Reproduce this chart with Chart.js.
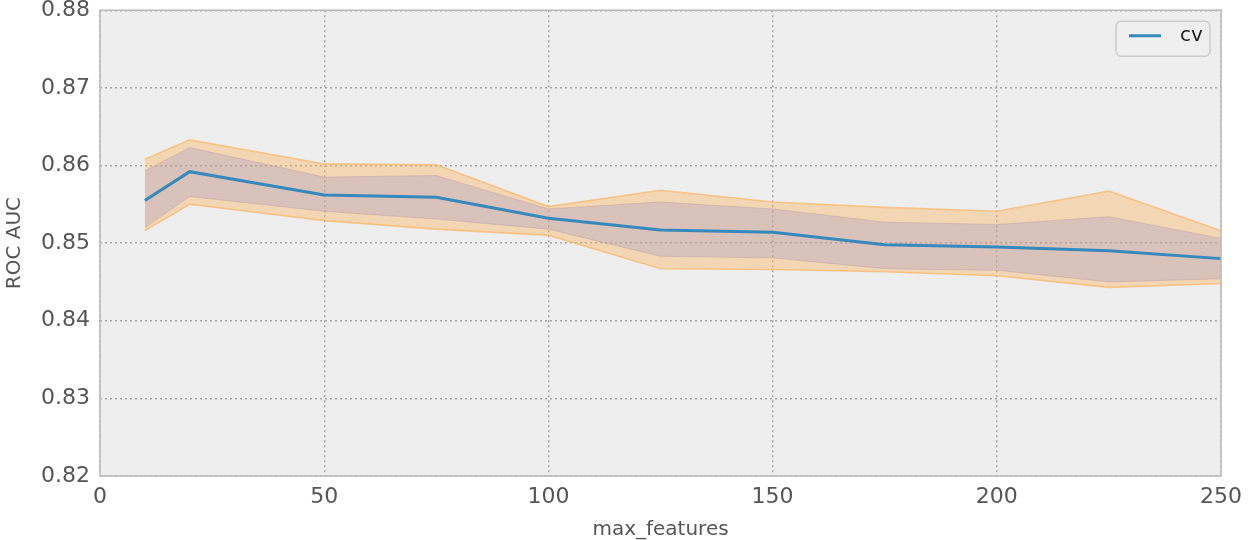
<!DOCTYPE html>
<html>
<head>
<meta charset="utf-8">
<title>ROC AUC vs max_features</title>
<script src="https://cdn.jsdelivr.net/npm/chart.js@4/dist/chart.umd.min.js"></script>
<style>
  html, body { margin: 0; padding: 0; background: #ffffff; }
  #wrap { position: relative; width: 1250px; height: 540px; overflow: hidden; }
  canvas { display: block; margin-top: -13px; }
</style>
</head>
<body>
<div id="wrap"><canvas id="chart" width="1250" height="553"></canvas></div>
<script>
// Cross-validated ROC AUC against the max_features setting
const maxFeatures = [10, 20, 50, 75, 100, 125, 150, 175, 200, 225, 250];
const cvMean      = [0.8555, 0.8592, 0.8562, 0.8559, 0.8532, 0.8517, 0.8514, 0.8498, 0.8495, 0.8490, 0.8480];
// mean +/- 1 std
const innerUpper  = [0.8593, 0.8623, 0.8585, 0.8587, 0.8544, 0.8553, 0.8544, 0.8527, 0.8524, 0.8534, 0.8506];
const innerLower  = [0.8520, 0.8560, 0.8541, 0.8531, 0.8518, 0.8483, 0.8481, 0.8467, 0.8465, 0.8450, 0.8454];
// mean +/- 2 std
const outerUpper  = [0.8608, 0.8633, 0.8602, 0.8601, 0.8547, 0.8568, 0.8553, 0.8546, 0.8541, 0.8567, 0.8516];
const outerLower  = [0.8516, 0.8550, 0.8529, 0.8518, 0.8510, 0.8467, 0.8466, 0.8463, 0.8458, 0.8443, 0.8448];

const xTicks = [0, 50, 100, 150, 200, 250];
const yTicks = [0.82, 0.83, 0.84, 0.85, 0.86, 0.87, 0.88];

const pairs = ys => maxFeatures.map((x, i) => ({ x: x, y: ys[i] }));

const FONT = "'DejaVu Sans', 'Bitstream Vera Sans', sans-serif";

// plot background and frame
const framePlugin = {
  id: 'frame',
  beforeDraw(chart) {
    const { ctx, chartArea: a } = chart;
    ctx.save();
    ctx.fillStyle = '#eeeeee';
    ctx.fillRect(a.left, a.top, a.right - a.left, a.bottom - a.top);
    ctx.restore();
  },
  afterDraw(chart) {
    const { ctx, chartArea: a } = chart;
    ctx.save();
    ctx.strokeStyle = '#bcbcbc';
    ctx.lineWidth = 1.6;
    ctx.strokeRect(a.left, a.top, a.right - a.left, a.bottom - a.top);
    ctx.restore();
  }
};

// legend box in the upper right corner of the plot
const legendPlugin = {
  id: 'cornerLegend',
  afterDraw(chart) {
    const { ctx, chartArea: a } = chart;
    const ds = chart.data.datasets[0];
    const w = 94, h = 35;
    const x = a.right - 11 - w, y = a.top + 11;
    ctx.save();
    ctx.beginPath();
    ctx.roundRect(x, y, w, h, 5);
    ctx.fillStyle = '#efefef';
    ctx.fill();
    ctx.strokeStyle = '#cdcdcd';
    ctx.lineWidth = 1.5;
    ctx.stroke();
    ctx.beginPath();
    ctx.moveTo(x + 13, y + 14.5);
    ctx.lineTo(x + 45, y + 14.5);
    ctx.strokeStyle = ds.borderColor;
    ctx.lineWidth = 3;
    ctx.stroke();
    ctx.fillStyle = '#222222';
    ctx.font = '20px ' + FONT;
    ctx.textBaseline = 'middle';
    ctx.textAlign = 'left';
    ctx.fillText(ds.label, x + 64, y + 15);
    ctx.restore();
  }
};

const bandEdge = (color, width) => ({ borderColor: color, borderWidth: width, pointRadius: 0, tension: 0 });

new Chart(document.getElementById('chart'), {
  type: 'line',
  data: {
    datasets: [
      { label: 'cv', data: pairs(cvMean), borderColor: '#348ABD', borderWidth: 3,
        pointRadius: 0, tension: 0, fill: false },
      Object.assign({ label: 'std_upper', data: pairs(innerUpper), fill: '+1',
        backgroundColor: 'rgba(150,140,200,0.28)' }, bandEdge('rgba(190,160,160,0.45)', 1)),
      Object.assign({ label: 'std_lower', data: pairs(innerLower), fill: false },
        bandEdge('rgba(190,160,160,0.45)', 1)),
      Object.assign({ label: 'range_upper', data: pairs(outerUpper), fill: '+1',
        backgroundColor: 'rgba(252,178,88,0.38)' }, bandEdge('rgba(248,184,110,0.75)', 1.6)),
      Object.assign({ label: 'range_lower', data: pairs(outerLower), fill: false },
        bandEdge('rgba(248,184,110,0.75)', 1.6))
    ]
  },
  options: {
    responsive: false,
    animation: false,
    layout: { padding: { top: 1, right: 28, left: 0, bottom: 0 } },
    plugins: { legend: { display: false }, tooltip: { enabled: false } },
    scales: {
      x: {
        type: 'linear',
        min: 0, max: 250,
        afterFit(scale) { scale.height = 64; },
        afterBuildTicks(scale) { scale.ticks = xTicks.map(v => ({ value: v })); },
        ticks: { color: '#555555', font: { family: FONT, size: 22 }, padding: 8,
                 callback: v => String(v), maxRotation: 0 },
        grid: { color: '#a6a6a6', lineWidth: 1.4, drawTicks: false, tickLength: 0 },
        border: { display: false, dash: [2, 3] },
        title: { display: true, text: 'max_features', color: '#555555',
                 font: { family: FONT, size: 20 }, padding: { top: 0, bottom: -2 } }
      },
      y: {
        type: 'linear',
        min: 0.82, max: 0.88,
        afterFit(scale) { scale.width = 100; },
        afterBuildTicks(scale) { scale.ticks = yTicks.map(v => ({ value: v })); },
        ticks: { color: '#555555', font: { family: FONT, size: 22 }, padding: 10,
                 callback: v => Number(v).toFixed(2) },
        grid: { color: '#a6a6a6', lineWidth: 1.4, drawTicks: false, tickLength: 0 },
        border: { display: false, dash: [2, 3] },
        title: { display: true, text: 'ROC AUC', color: '#555555',
                 font: { family: FONT, size: 20 }, padding: { top: 3, bottom: 0 } }
      }
    }
  },
  plugins: [framePlugin, legendPlugin]
});
</script>
</body>
</html>
